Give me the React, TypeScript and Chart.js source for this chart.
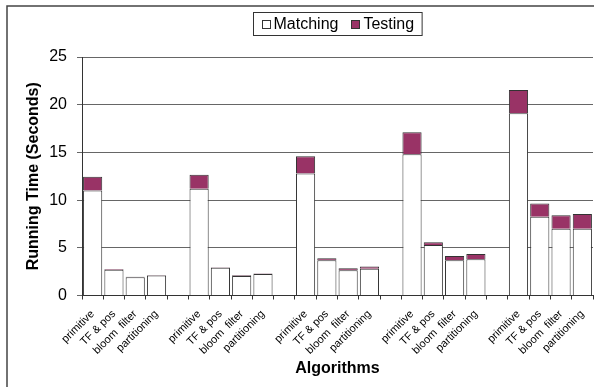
import React, { useEffect, useRef } from 'react';
import { Chart, registerables } from 'chart.js';

Chart.register(...registerables);

const categories: string[] = [
  'primitive', 'TF & pos', 'bloom  filter', 'partitioning', '',
  'primitive', 'TF & pos', 'bloom  filter', 'partitioning', '',
  'primitive', 'TF & pos', 'bloom  filter', 'partitioning', '',
  'primitive', 'TF & pos', 'bloom  filter', 'partitioning', '',
  'primitive', 'TF & pos', 'bloom  filter', 'partitioning',
];

const matching: (number | null)[] = [
  11.0, 2.7, 1.9, 2.1, null,
  11.2, 2.9, 2.05, 2.25, null,
  12.8, 3.7, 2.65, 2.8, null,
  14.8, 5.3, 3.7, 3.8, null,
  19.1, 8.25, 7.0, 7.0,
];

const testing: (number | null)[] = [
  1.45, 0.08, 0.06, 0.06, null,
  1.45, 0.06, 0.06, 0.06, null,
  1.8, 0.2, 0.2, 0.25, null,
  2.3, 0.27, 0.45, 0.55, null,
  2.45, 1.4, 1.4, 1.55,
];

const yMin = 0;
const yMax = 25;
const yStep = 5;

const FONT = '"Liberation Sans", Arial, sans-serif';

const framePlugin = {
  id: 'frame',
  beforeDraw(chart: any) {
    const ctx = chart.ctx;
    ctx.save();
    ctx.fillStyle = '#ffffff';
    ctx.fillRect(0, 0, chart.width, chart.height);
    ctx.strokeStyle = '#444444';
    ctx.lineWidth = 1.5;
    ctx.beginPath();
    ctx.moveTo(7, chart.height);
    ctx.lineTo(7, 6);
    ctx.lineTo(chart.width, 6);
    ctx.stroke();
    ctx.restore();
  },
};

const legendPlugin = {
  id: 'boxLegend',
  afterDraw(chart: any) {
    const ctx = chart.ctx;
    const ds = chart.data.datasets;
    ctx.save();
    ctx.font = `16px ${FONT}`;
    const box = 8;
    const gapText = 4;
    const itemGap = 13;
    const pad = 8;
    const widths = ds.map((d: any) => ctx.measureText(d.label).width);
    let total = pad * 2;
    widths.forEach((w: number, i: number) => {
      total += box + gapText + w + (i > 0 ? itemGap : 0);
    });
    const area = chart.chartArea;
    const cx = (area.left + area.right) / 2;
    const top = 12;
    const h = 23;
    const left = Math.round(cx - total / 2) + 0.5;
    ctx.strokeStyle = '#333333';
    ctx.lineWidth = 1;
    ctx.fillStyle = '#ffffff';
    ctx.fillRect(left, top + 0.5, total, h);
    ctx.strokeRect(left, top + 0.5, total, h);
    let x = left + pad;
    const midY = top + h / 2 + 0.5;
    ds.forEach((d: any, i: number) => {
      if (i > 0) x += itemGap;
      ctx.fillStyle = d.backgroundColor;
      ctx.fillRect(Math.round(x) + 0.5, Math.round(midY - 4) + 0.5, box, box);
      ctx.strokeStyle = '#333333';
      ctx.strokeRect(Math.round(x) + 0.5, Math.round(midY - 4) + 0.5, box, box);
      x += box + gapText;
      ctx.fillStyle = '#000000';
      ctx.textBaseline = 'middle';
      ctx.textAlign = 'left';
      ctx.fillText(d.label, x, midY + 1);
      x += widths[i];
    });
    ctx.restore();
  },
};

export default function App() {
  const ref = useRef<HTMLCanvasElement | null>(null);

  useEffect(() => {
    if (!ref.current) return;
    const chart = new Chart(ref.current, {
      type: 'bar',
      data: {
        labels: categories,
        datasets: [
          {
            label: 'Matching',
            data: matching,
            backgroundColor: '#ffffff',
            borderColor: '#333333',
            borderWidth: 1,
            barPercentage: 0.9,
            categoryPercentage: 1.0,
          },
          {
            label: 'Testing',
            data: testing,
            backgroundColor: '#993366',
            borderColor: '#333333',
            borderWidth: 1,
            barPercentage: 0.9,
            categoryPercentage: 1.0,
          },
        ],
      },
      options: {
        responsive: false,
        animation: false,
        devicePixelRatio: 1,
        layout: { padding: { top: 57, right: 1, left: 0, bottom: 0 } },
        plugins: {
          legend: { display: false },
          tooltip: { enabled: false },
        },
        scales: {
          x: {
            stacked: true,
            grid: {
              display: true,
              drawOnChartArea: false,
              drawTicks: true,
              tickLength: 4,
              color: '#333333',
              offset: true,
            },
            border: { display: true, color: '#333333', width: 1 },
            ticks: {
              autoSkip: false,
              maxRotation: 45,
              minRotation: 45,
              padding: 8,
              color: '#000000',
              font: { family: FONT, size: 11 },
            },
            title: {
              display: true,
              text: 'Algorithms',
              color: '#000000',
              font: { family: FONT, size: 16, weight: 'bold' },
              padding: { top: 0, bottom: 9 },
            },
            afterFit: (s: any) => {
              s.height = 91.5;
              s.paddingLeft = 0;
              s.paddingRight = 0;
            },
          },
          y: {
            stacked: true,
            min: yMin,
            max: yMax,
            grid: {
              color: '#666666',
              tickLength: 5,
              drawTicks: true,
            },
            border: { display: true, color: '#333333', width: 1 },
            ticks: {
              stepSize: yStep,
              padding: 10,
              color: '#000000',
              font: { family: FONT, size: 16 },
            },
            title: {
              display: true,
              text: 'Running Time (Seconds)',
              color: '#000000',
              font: { family: FONT, size: 16, weight: 'bold' },
              padding: { top: 24, bottom: 0 },
            },
            afterFit: (s: any) => {
              s.width = 82;
            },
          },
        },
      },
      plugins: [framePlugin, legendPlugin],
    });
    return () => chart.destroy();
  }, []);

  return (
    <div style={{ position: 'fixed', left: 0, top: 0, width: 594, height: 387 }}>
      <canvas ref={ref} width={594} height={387} style={{ width: 594, height: 387, display: 'block' }} />
    </div>
  );
}
